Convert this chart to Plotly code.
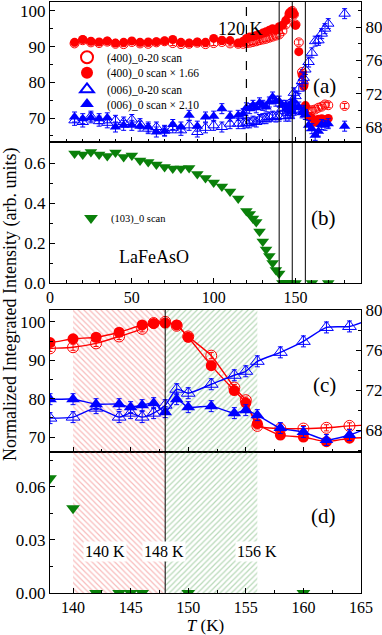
import plotly.graph_objects as go

# ---------------- data ----------------
# (400) reflection (red), temperatures in K
T_400 = [15, 20, 25, 30, 35, 40, 45, 50, 55, 60, 65, 70, 75, 80, 85, 90, 95, 100, 105, 110, 115,
         118, 120, 122, 124, 126, 128, 130, 132, 134, 136,
         138, 140, 142, 144, 146, 147, 148, 149, 150, 152, 154, 155, 156, 158, 160, 162, 164,
         166, 168, 170, 180]
r_open = [90.9, 91.8, 91.2, 91.0, 91.4, 90.8, 90.7, 91.3, 90.9, 90.8, 91.2, 91.5, 91.0, 90.7, 90.8, 91.1, 90.7, 91.0, 91.3, 90.9, 90.8,
          90.8, 91.0, 91.1, 91.3, 91.5, 91.8, 92.0, 92.2, 92.5, 92.8,
          93.1, 93.4, 94.4, 96.2, 98.2, 99.7, 100.0, 99.0, 96.2, 91.2, 82.9, 79.6, 72.9, 72.2, 72.2, 72.4, 72.9,
          73.2, 73.8, 73.6, 73.4]
r_fill = [91.2, 92.0, 91.5, 91.3, 91.6, 91.0, 91.2, 91.6, 91.2, 91.3, 91.4, 91.6, 92.0, 91.2, 91.0, 91.3, 91.2, 92.3, 91.8, 91.7, 91.0,
          91.5, 92.3, 92.7, 92.8, 93.1, 93.4, 93.8, 94.2, 94.6, 95.0,
          94.6, 95.6, 96.0, 97.3, 99.2, 99.6, 99.7, 99.2, 96.0, 88.6, 82.1, 78.9, 73.5, 70.5, 70.0, 68.8, 69.7,
          69.8, 69.5, 69.9, None]

# (006) reflection (blue), right axis
T_006 = [15, 20, 25, 30, 35, 40, 45, 50, 55, 60, 65, 70, 75, 80, 85, 90, 95, 100, 105, 110, 115,
         118, 120, 122, 124, 126, 128, 130, 132, 134, 136,
         138, 140, 142, 144, 145, 146, 147, 148, 149, 150, 152, 154, 155, 156, 158, 160, 162, 164,
         166, 168, 170, 180]
b_open = [68.8, 68.6, 69.3, 68.7, 68.5, 68.8, 68.6, 68.9, 68.4, 67.8, 68.0, 67.6, 67.9, 67.6, 68.2, 67.4, 67.9, 68.2, 68.0, 68.4, 68.4,
          68.4, 68.5, 68.5, 68.7, 68.6, 68.9, 69.0, 69.0, 69.2, 69.3,
          69.2, 69.3, 70.2, 69.3, 69.7, 69.3, 69.7, 70.5, 72.1, 71.7, 72.6, 73.5, 73.9, 74.9, 75.8, 76.9, 78.3, 78.4,
          79.2, 79.8, 80.4, 81.6]
b_fill = [69.2, 69.0, 69.1, 69.0, 69.1, 68.0, 68.2, 68.2, 68.1, 68.0, 67.4, 67.5, 68.3, 68.0, 69.4, 68.1, 69.2, 69.3, 70.2, 69.3, 69.4,
          69.6, 70.3, 70.2, 70.6, 70.3, 70.9, 70.6, 70.4, 71.0, 71.6,
          71.1, 71.1, 70.6, 70.6, 70.3, 70.5, 70.7, 69.8, 71.1, 70.3, 70.4, 69.7, 70.0, 69.5, 68.2, 67.8, 67.0, 67.5,
          68.3, 68.2, 68.4, 68.1]

# (103) magnetic-ordering reflection (green)
T_103 = [15, 20, 25, 30, 35, 40, 45, 50, 55, 60, 65, 70, 75, 80, 85, 90, 95, 100, 105, 110, 115,
         120, 122, 124, 126, 128, 130, 132, 134, 136, 138, 140,
         142, 144, 145, 146, 150, 160, 170]
I_103 = [0.647, 0.642, 0.655, 0.642, 0.635, 0.652, 0.630, 0.638, 0.613, 0.605, 0.592, 0.580, 0.572, 0.572, 0.575, 0.545, 0.525, 0.503, 0.482, 0.457, 0.423,
         0.360, 0.345, 0.323, 0.305, 0.257, 0.207, 0.168, 0.135, 0.100, 0.065, 0.048,
         0.0, 0.0, 0.0, 0.0, 0.0, 0.0, 0.0]

T_dashed = 120
T_lines = [140, 148, 156]
region_names = ["140 K", "148 K", "156 K"]

legend_names = ["(400)_0-20 scan", "(400)_0 scan × 1.66", "(006)_0-20 scan", "(006)_0 scan × 2.10", "(103)_0 scan"]

# ---------------- style ----------------
FONT = "Liberation Serif"
RED = "#ff0000"
BLUE = "#0000ff"
GREEN = "#0a800a"

# plot area pixels: left 50, right 361, top 2, bottom 593 (height 591)
H = 591.0
def py(p):
    return (593 - p) / H

dom_a = [py(142), 1.0]
dom_b = [py(283), py(142)]
dom_c = [py(452), py(310)]
dom_d = [0.0, py(452)]

fig = go.Figure()

def err(v):
    return dict(type="constant", value=v, thickness=1, width=2.5)

# ---- panel (a)
fig.add_trace(go.Scatter(x=T_400, y=r_open, mode="markers", name=legend_names[0], legend="legend",
                         marker=dict(symbol="circle-open", size=9, color=RED, line=dict(width=1)),
                         error_y=dict(err(0.7), color=RED), xaxis="x", yaxis="y"))
fig.add_trace(go.Scatter(x=T_400, y=r_fill, mode="markers", name=legend_names[1], legend="legend2",
                         marker=dict(symbol="circle", size=9, color=RED),
                         xaxis="x", yaxis="y"))
fig.add_trace(go.Scatter(x=T_006, y=b_open, mode="markers", name=legend_names[2], legend="legend3",
                         marker=dict(symbol="triangle-up-open", size=10, color=BLUE, line=dict(width=1)),
                         error_y=dict(err(0.6), color=BLUE), xaxis="x", yaxis="y2"))
fig.add_trace(go.Scatter(x=T_006, y=b_fill, mode="markers", name=legend_names[3], legend="legend4",
                         marker=dict(symbol="triangle-up", size=10, color=BLUE),
                         error_y=dict(err(0.6), color=BLUE), xaxis="x", yaxis="y2"))

# ---- panel (b)
fig.add_trace(go.Scatter(x=T_103, y=I_103, mode="markers", name=legend_names[4], legend="legend5",
                         marker=dict(symbol="triangle-down", size=11, color=GREEN),
                         xaxis="x2", yaxis="y3"))

# ---- hatched regions (c) and (d)
def hatch(x0, x1, color, shape, xa, ya, base, top):
    return go.Bar(x=[(x0 + x1) / 2], y=[top - base], base=[base], width=[x1 - x0],
                  marker=dict(color="rgba(0,0,0,0)", line=dict(width=0),
                              pattern=dict(shape=shape, fgcolor=color, bgcolor="rgba(0,0,0,0)",
                                           size=4, solidity=0.3)),
                  showlegend=False, hoverinfo="skip", xaxis=xa, yaxis=ya)

RH = "rgba(235,60,60,0.7)"
GH = "rgba(50,145,50,0.7)"
fig.add_trace(hatch(T_lines[0], T_lines[1], RH, "\\", "x3", "y4", 60, 110))
fig.add_trace(hatch(T_lines[1], T_lines[2], GH, "/", "x3", "y4", 60, 110))
fig.add_trace(hatch(T_lines[0], T_lines[1], RH, "\\", "x4", "y6", -0.1, 0.2))
fig.add_trace(hatch(T_lines[1], T_lines[2], GH, "/", "x4", "y6", -0.1, 0.2))

# ---- panel (c)
fig.add_trace(go.Scatter(x=T_400, y=r_fill, mode="lines+markers", showlegend=False,
                         line=dict(color=RED, width=1.4, shape="spline", smoothing=0.6),
                         marker=dict(symbol="circle", size=11, color=RED), xaxis="x3", yaxis="y4"))
fig.add_trace(go.Scatter(x=T_400, y=r_open, mode="lines+markers", showlegend=False,
                         line=dict(color=RED, width=1.4, shape="spline", smoothing=0.6),
                         marker=dict(symbol="circle-open", size=11, color=RED, line=dict(width=1)),
                         error_y=dict(err(0.8), color=RED), xaxis="x3", yaxis="y4"))
fig.add_trace(go.Scatter(x=T_006, y=b_open, mode="lines+markers", showlegend=False,
                         line=dict(color=BLUE, width=1.4, shape="spline", smoothing=0.6),
                         marker=dict(symbol="triangle-up-open", size=12, color=BLUE, line=dict(width=1)),
                         error_y=dict(err(0.55), color=BLUE), xaxis="x3", yaxis="y5"))
fig.add_trace(go.Scatter(x=T_006, y=b_fill, mode="lines+markers", showlegend=False,
                         line=dict(color=BLUE, width=1.4, shape="spline", smoothing=0.6),
                         marker=dict(symbol="triangle-up", size=12, color=BLUE),
                         error_y=dict(err(0.55), color=BLUE), xaxis="x3", yaxis="y5"))

# ---- panel (d)
fig.add_trace(go.Scatter(x=T_103, y=I_103, mode="markers", showlegend=False,
                         marker=dict(symbol="triangle-down", size=12, color=GREEN),
                         xaxis="x4", yaxis="y6"))

# ---------------- axes ----------------
tf = dict(family=FONT, size=17, color="black")
tfx = dict(family=FONT, size=16, color="black")
def ax(**kw):
    d = dict(showline=True, linecolor="black", linewidth=1, ticks="inside", ticklen=5, tickwidth=1,
             tickcolor="black", showgrid=False, zeroline=False, tickfont=tf, automargin=False)
    d.update(kw)
    return d
def mn(dt):
    return dict(ticks="inside", ticklen=3, tickcolor="black", dtick=dt, showgrid=False)

fig.update_layout(
    xaxis=ax(domain=[0, 1], anchor="y", range=[0, 190], dtick=50, tick0=0, minor=mn(10),
             showticklabels=False, mirror=True),
    yaxis=ax(domain=dom_a, anchor="x", range=[63.3, 102.5], dtick=10, tick0=70, minor=mn(5)),
    yaxis2=ax(overlaying="y", side="right", anchor="x", range=[66.2, 83.0], dtick=4, tick0=68, minor=mn(2)),
    xaxis2=ax(domain=[0, 1], anchor="y3", range=[0, 190], dtick=50, tick0=0, minor=mn(10), mirror=True,
              tickfont=tfx),
    yaxis3=ax(domain=dom_b, anchor="x2", range=[0, 0.705], dtick=0.2, tick0=0, minor=mn(0.1),
              tickformat=".1f", mirror=True),
    xaxis3=ax(domain=[0, 1], anchor="y4", range=[138, 165], dtick=5, tick0=140, minor=mn(2.5),
              showticklabels=False, mirror=True),
    yaxis4=ax(domain=dom_c, anchor="x3", range=[66.1, 103.1], dtick=10, tick0=70, minor=mn(5)),
    yaxis5=ax(overlaying="y4", side="right", anchor="x3", range=[65.8, 80.05], dtick=4, tick0=68, minor=mn(2)),
    xaxis4=ax(domain=[0, 1], anchor="y6", range=[138, 165], dtick=5, tick0=140, minor=mn(2.5), mirror=True,
              tickfont=tfx,
              title=dict(text="<i>T</i> (K)", font=dict(family=FONT, size=17, color="black"), standoff=2)),
    yaxis6=ax(domain=dom_d, anchor="x4", range=[0, 0.0798], dtick=0.03, tick0=0, minor=mn(0.015),
              tickformat=".2f", mirror=True),
    barmode="overlay",
    width=382, height=635,
    margin=dict(l=50, r=21, t=2, b=42, autoexpand=False),
    paper_bgcolor="white", plot_bgcolor="white",
    font=dict(family=FONT, color="black"),
)

# legends, one per entry for exact placement
leg_rows = [57.3, 72.7, 89.3, 104.0]
keys = ["legend", "legend2", "legend3", "legend4"]
for k, r in zip(keys, leg_rows):
    fig.update_layout({k: dict(x=(67 - 50) / 311, y=py(r), xanchor="left", yanchor="middle",
                               bgcolor="rgba(0,0,0,0)", borderwidth=0, itemsizing="constant",
                               font=dict(family=FONT, size=11.5, color="black"), tracegroupgap=0)})
fig.update_layout(legend5=dict(x=(71 - 50) / 311, y=py(218), xanchor="left", yanchor="middle",
                               bgcolor="rgba(0,0,0,0)", borderwidth=0, itemsizing="constant",
                               font=dict(family=FONT, size=10.5, color="black")))

# ---------------- reference lines ----------------
shapes = [dict(type="line", xref="x", yref="y domain", x0=T_dashed, x1=T_dashed, y0=0, y1=1,
               line=dict(color="black", width=1.2, dash="dash"))]
for t in T_lines:
    shapes.append(dict(type="line", xref="x", yref="paper", x0=t, x1=t, y0=dom_b[0], y1=1,
                       line=dict(color="black", width=1)))
shapes.append(dict(type="line", xref="x3", yref="paper", x0=T_lines[1], x1=T_lines[1], y0=0, y1=dom_c[1],
                   line=dict(color="black", width=1)))
fig.update_layout(shapes=shapes)

# ---------------- annotations ----------------
def px_x(p):
    return (p - 50) / 311.0

ann = [
    dict(text="120 K", xref="paper", yref="paper", x=px_x(240), y=py(17), showarrow=False,
         font=dict(family=FONT, size=18, color="black")),
    dict(text="(a)", xref="paper", yref="paper", x=px_x(338), y=py(72), showarrow=False,
         font=dict(family=FONT, size=21, color="black")),
    dict(text="(b)", xref="paper", yref="paper", x=px_x(338), y=py(218), showarrow=False,
         font=dict(family=FONT, size=21, color="black")),
    dict(text="LaFeAsO", xref="paper", yref="paper", x=px_x(117), y=py(257), showarrow=False,
         font=dict(family=FONT, size=18, color="black")),
    dict(text="(c)", xref="paper", yref="paper", x=px_x(338), y=py(385), showarrow=False,
         font=dict(family=FONT, size=21, color="black")),
    dict(text="(d)", xref="paper", yref="paper", x=px_x(338), y=py(530), showarrow=False,
         font=dict(family=FONT, size=21, color="black")),
    dict(text="Normalized Integrated Intensity (arb. units)", xref="paper", yref="paper",
         x=px_x(10), y=py(305), xanchor="center", yanchor="middle", showarrow=False, textangle=-90,
         font=dict(family=FONT, size=18, color="black")),
]
for cx, name in zip([83, 164, 257], region_names):
    ann.append(dict(text=name, xref="paper", yref="paper", x=px_x(cx), y=py(562), showarrow=False,
                    bgcolor="white", borderpad=1, font=dict(family=FONT, size=16, color="black")))
fig.update_layout(annotations=ann)

fig.write_html("out.html", config={"displayModeBar": False},
               post_script="document.body.style.margin='0';")
